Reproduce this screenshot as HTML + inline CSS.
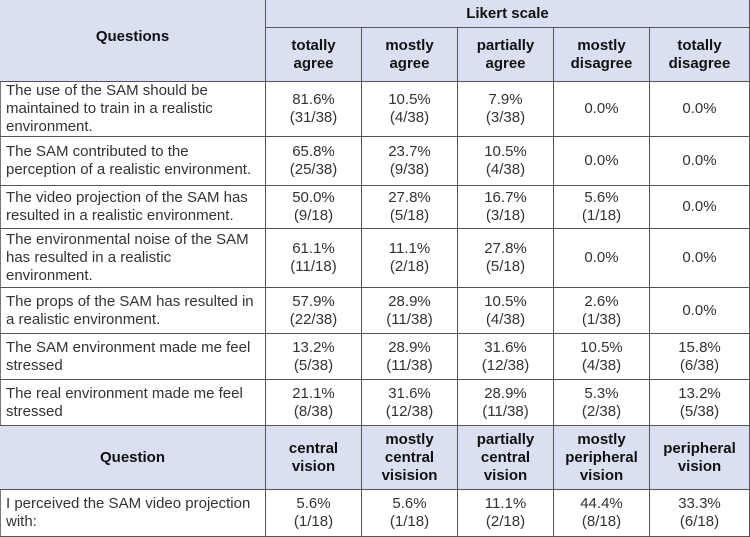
<!DOCTYPE html><html><head><style>
body{margin:0;width:750px;height:537px;background:#fff;font-family:"Liberation Sans",Arial,sans-serif;font-size:15px;color:#333;overflow:hidden}
.c{position:absolute;box-sizing:border-box;display:flex;align-items:center;justify-content:center;text-align:center;line-height:18px;border-right:1px solid #555;border-bottom:1px solid #555}
.h{background:#dae0f2;font-weight:bold;color:#111}
.q{justify-content:flex-start;text-align:left;padding-left:6px;padding-right:8px}
</style></head><body>
<div style="position:absolute;left:0;top:0;width:750px;height:537px;box-sizing:border-box;border:1px solid #777;border-right:none"></div>
<div id="t"></div>
<script>
var X=[0,266,362,458,554,650,750];
var Y=[0,82,137,186,229,288,334,380,426,490,537];
var h='';
function cell(x0,x1,y0,y1,txt,cls,st){h+='<div class="c '+cls+'" style="left:'+x0+'px;top:'+y0+'px;width:'+(x1-x0)+'px;height:'+(y1-y0)+'px;'+(st||'')+'">'+txt+'</div>';}
cell(0,266,0,82,'Questions','h','padding-bottom:8px');
cell(266,750,0,28,'Likert scale','h');
var hd=['totally<br>agree','mostly<br>agree','partially<br>agree','mostly<br>disagree','totally<br>disagree'];
for(var i=0;i<5;i++)cell(X[i+1],X[i+2],28,82,hd[i],'h');
var rows=[
['The use of the SAM should be maintained to train in a realistic environment.','81.6%<br>(31/38)','10.5%<br>(4/38)','7.9%<br>(3/38)','0.0%','0.0%'],
['The SAM contributed to the perception of a realistic environment.','65.8%<br>(25/38)','23.7%<br>(9/38)','10.5%<br>(4/38)','0.0%','0.0%'],
['The video projection of the SAM has resulted in a realistic environment.','50.0%<br>(9/18)','27.8%<br>(5/18)','16.7%<br>(3/18)','5.6%<br>(1/18)','0.0%'],
['The environmental noise of the SAM has resulted in a realistic environment.','61.1%<br>(11/18)','11.1%<br>(2/18)','27.8%<br>(5/18)','0.0%','0.0%'],
['The props of the SAM has resulted in a realistic environment.','57.9%<br>(22/38)','28.9%<br>(11/38)','10.5%<br>(4/38)','2.6%<br>(1/38)','0.0%'],
['The SAM environment made me feel stressed','13.2%<br>(5/38)','28.9%<br>(11/38)','31.6%<br>(12/38)','10.5%<br>(4/38)','15.8%<br>(6/38)'],
['The real environment made me feel stressed','21.1%<br>(8/38)','31.6%<br>(12/38)','28.9%<br>(11/38)','5.3%<br>(2/38)','13.2%<br>(5/38)'],
['Question','central<br>vision','mostly<br>central<br>visision','partially<br>central<br>vision','mostly<br>peripheral<br>vision','peripheral<br>vision'],
['I perceived the SAM video projection with:','5.6%<br>(1/18)','5.6%<br>(1/18)','11.1%<br>(2/18)','44.4%<br>(8/18)','33.3%<br>(6/18)']];
rows.forEach(function(r,j){var hh=j==7;for(var i=0;i<6;i++)cell(X[i],X[i+1],Y[j+1],Y[j+2],r[i],hh?'h':(i==0?'q':''));});
document.getElementById('t').innerHTML=h;
</script></body></html>
